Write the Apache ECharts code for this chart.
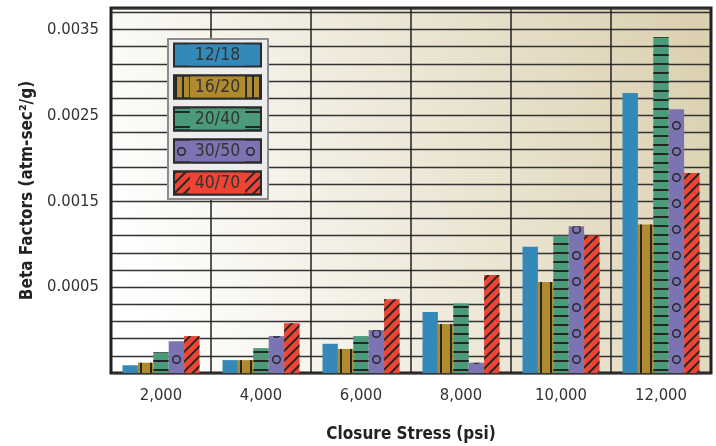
<!DOCTYPE html>
<html>
<head>
<meta charset="utf-8">
<script src="https://cdn.jsdelivr.net/npm/echarts@6/dist/echarts.min.js"></script>
<style>
html, body { margin: 0; padding: 0; background: #fff; }
#main { width: 716px; height: 446px; }
</style>
</head>
<body>
<div id="main"></div>
<script>
// closure stress categories and mesh sizes
var stresses = ['2,000', '4,000', '6,000', '8,000', '10,000', '12,000'];
var meshSizes = ['12/18', '16/20', '20/40', '30/50', '40/70'];

// beta factors read against the printed axis labels
var beta1218 = [-0.00041, -0.00035, -0.00016, 0.00021, 0.00097, 0.00276];
var beta1620 = [-0.00038, -0.00035, -0.00022, 0.00007, 0.00056, 0.00123];
var beta2040 = [-0.00026, -0.00021, -0.00007, 0.00031, 0.00110, 0.00341];
var beta3050 = [-0.00013, -0.00007, 0.00000, -0.00038, 0.00121, 0.00257];
var beta4070 = [-0.00007, 0.00008, 0.00036, 0.00064, 0.00110, 0.00183];

var yTickLabels = [0.0005, 0.0015, 0.0025, 0.0035];

var font = "'Liberation Sans Narrow', 'DejaVu Sans Condensed', sans-serif";
var colors = ['#3489b9', '#b08a2e', '#4b9b7a', '#7c74b2', '#ee4433'];
var ink = '#262626';
var ring = 'path://M0,5A5,5,0,1,0,10,5A5,5,0,1,0,0,5ZM1.6,5A3.4,3.4,0,1,1,8.4,5A3.4,3.4,0,1,1,1.6,5Z';

var barDecals = [
    null,
    {symbol: 'rect', symbolKeepAspect: false, color: ink, dashArrayX: [2, 8], dashArrayY: [10, 0]},
    {symbol: 'rect', symbolKeepAspect: false, color: ink, dashArrayX: [10, 0], dashArrayY: [2, 7]},
    {symbol: ring, color: ink, dashArrayX: [0, 72, 9, 19], dashArrayY: [0, 17, 9, 0]},
    {symbol: 'rect', symbolKeepAspect: false, color: ink, dashArrayX: [10, 0], dashArrayY: [2, 5], rotation: -Math.PI / 4}
];
var legendDecals = [
    null,
    {symbol: 'rect', symbolKeepAspect: false, color: ink, dashArrayX: [2, 5], dashArrayY: [10, 0]},
    {symbol: 'rect', symbolKeepAspect: false, color: ink, dashArrayX: [10, 0], dashArrayY: [0, 6, 2, 7]},
    {symbol: ring, color: ink, dashArrayX: [0, 46, 9, 22, 9, 14], dashArrayY: [0, 17, 9, 0]},
    {symbol: 'rect', symbolKeepAspect: false, color: ink, dashArrayX: [10, 0], dashArrayY: [2, 5], rotation: -Math.PI / 4}
];

var seriesData = [beta1218, beta1620, beta2040, beta3050, beta4070];

var myChart = echarts.init(document.getElementById('main'));

var series = meshSizes.map(function (name, i) {
    var style = {color: colors[i]};
    if (barDecals[i]) style.decal = barDecals[i];
    return {
        name: name,
        type: 'bar',
        xAxisIndex: 0,
        yAxisIndex: 0,
        barWidth: 15.4,
        barGap: 0,
        itemStyle: style,
        data: seriesData[i]
    };
});

// legend drawn as a little bar chart in its own grid
series.push({
    type: 'bar',
    xAxisIndex: 1,
    yAxisIndex: 1,
    barWidth: 25,
    z: 5,
    silent: true,
    label: {
        show: true,
        position: 'inside',
        formatter: function (p) { return p.name; },
        fontFamily: font,
        fontSize: 17.5,
        color: '#333',
        lineHeight: 21,
        padding: [0, 5]
    },
    data: meshSizes.map(function (name, i) {
        var st = {color: colors[i], borderColor: '#2b2b2b', borderWidth: 2};
        if (legendDecals[i]) st.decal = legendDecals[i];
        return {name: name, value: 1, itemStyle: st, label: {backgroundColor: colors[i]}};
    })
});

var option = {
    animation: false,
    grid: [
        {
            left: 111, top: 8, width: 600, height: 365,
            outerBoundsMode: 'none',
            show: true,
            borderColor: '#222',
            borderWidth: 3,
            backgroundColor: {
                type: 'linear', x: 0, y: 0.6, x2: 1, y2: 0,
                colorStops: [{offset: 0, color: '#ffffff'}, {offset: 1, color: '#dacfae'}]
            }
        },
        {
            left: 168, top: 39, width: 100, height: 160,
            outerBoundsMode: 'none',
            show: true, z: 3,
            backgroundColor: '#ececec',
            borderColor: '#8c8c8c',
            borderWidth: 2
        }
    ],
    xAxis: [
        {
            type: 'category',
            gridIndex: 0,
            data: stresses,
            axisLine: {show: false},
            axisTick: {show: false},
            splitLine: {show: true, lineStyle: {color: '#222', width: 1.5}},
            axisLabel: {margin: 14, fontFamily: font, fontSize: 16.5, color: '#333'},
            name: 'Closure Stress (psi)',
            nameLocation: 'middle',
            nameGap: 53,
            nameTextStyle: {fontFamily: font, fontSize: 17, fontWeight: 'bold', color: '#222'}
        },
        {
            type: 'value', gridIndex: 1, min: -0.05618, max: 1.0674, show: false
        }
    ],
    yAxis: [
        {
            type: 'value',
            gridIndex: 0,
            min: -0.0005,
            max: 0.00375,
            interval: 0.0002,
            startValue: -0.0005,
            axisLine: {show: false},
            axisTick: {show: false},
            splitLine: {show: true, lineStyle: {color: '#333', width: 1.3}},
            axisLabel: {
                margin: 12,
                fontFamily: font,
                fontSize: 16.5,
                color: '#333',
                padding: [0, 0, 5, 0],
                formatter: function (v) {
                    for (var k = 0; k < yTickLabels.length; k++) {
                        if (Math.abs(v - yTickLabels[k]) < 1e-9) return yTickLabels[k].toFixed(4);
                    }
                    return '';
                }
            },
            name: 'Beta Factors (atm-sec²/g)',
            nameLocation: 'middle',
            nameGap: 72,
            nameTextStyle: {fontFamily: font, fontSize: 17, fontWeight: 'bold', color: '#222'}
        },
        {
            type: 'category', gridIndex: 1, data: meshSizes, inverse: true, show: false
        }
    ],
    series: series
};

if (option && typeof option === 'object') {
    myChart.setOption(option, true);
}
</script>
</body>
</html>
